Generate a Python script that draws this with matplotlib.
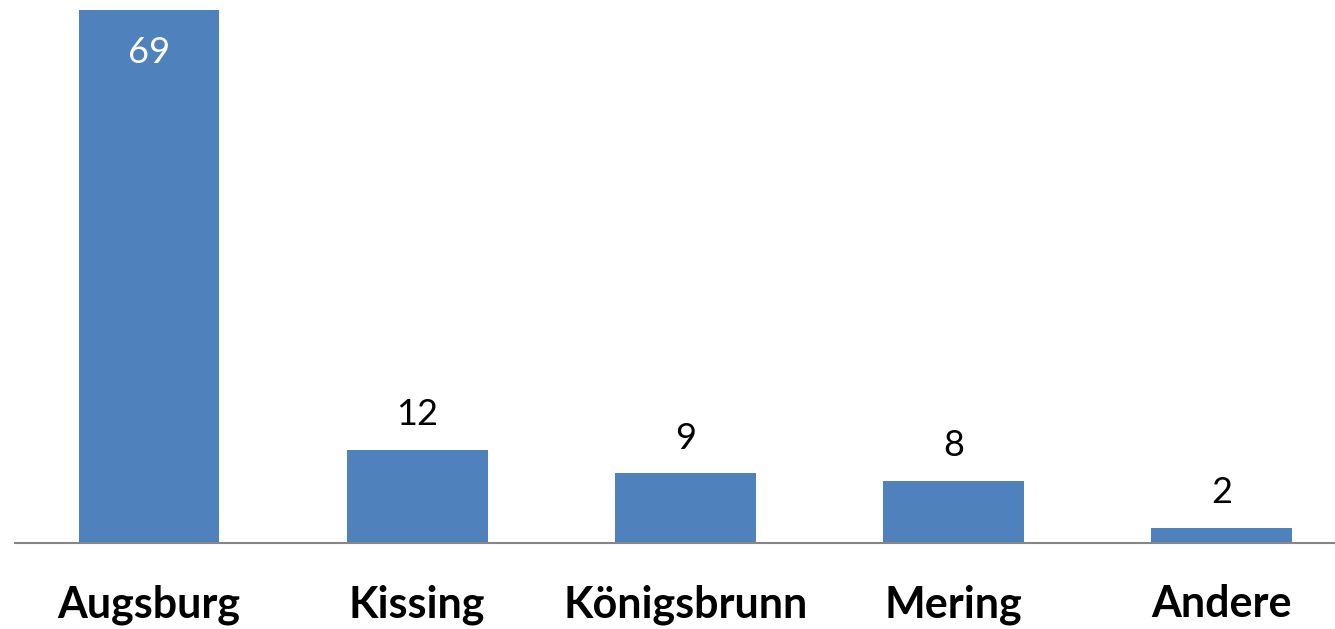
import matplotlib
matplotlib.use("Agg")
import matplotlib.pyplot as plt

categories = ["Augsburg", "Kissing", "Königsbrunn", "Mering", "Andere"]
values = [69, 12, 9, 8, 2]

W, H = 1335, 629
fig = plt.figure(figsize=(W / 100, H / 100), dpi=100)
left_px, right_px = 15, 1355.5
base_px, top_px = 543, 10
ax = fig.add_axes([left_px / W, (H - base_px) / H,
                   (right_px - left_px) / W, (base_px - top_px) / H])

x = list(range(len(categories)))
ax.bar(x, values, width=0.525, color="#4F81BD", zorder=2)
ax.set_xlim(-0.5, len(categories) - 0.5)
ax.set_ylim(0, 69)

for s in ["top", "right", "left"]:
    ax.spines[s].set_visible(False)
ax.spines["bottom"].set_color("#868686")
ax.spines["bottom"].set_linewidth(1.5)
ax.set_yticks([])
ax.set_xticks([])

font = "Lato"
for xi, cat, v in zip(x, categories, values):
    ax.annotate(cat, xy=(xi, 0), xycoords=("data", "axes fraction"),
                xytext=(0, -53.5), textcoords="offset points",
                ha="center", va="baseline", fontsize=31, fontweight="bold",
                family=font, color="black", annotation_clip=False)
    if v == max(values):
        ax.annotate(str(v), xy=(xi, v), xytext=(0, -30.5), textcoords="offset points",
                    ha="center", va="center", fontsize=26, family=font, color="white")
    else:
        ax.annotate(str(v), xy=(xi, v), xytext=(0, 25.5), textcoords="offset points",
                    ha="center", va="center", fontsize=26, family=font, color="black")

fig.savefig("out.png", dpi=100)
